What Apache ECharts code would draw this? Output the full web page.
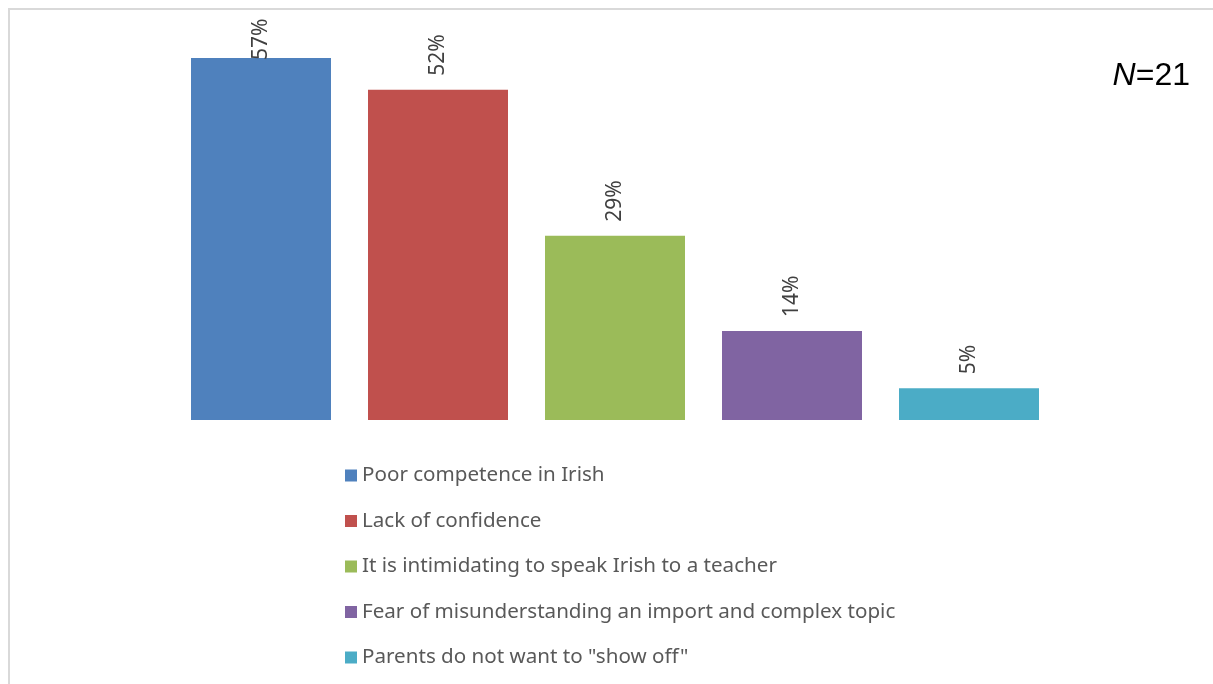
<!DOCTYPE html>
<html>
<head>
<meta charset="utf-8">
<script src="https://cdn.jsdelivr.net/npm/echarts@6/dist/echarts.min.js"></script>
<style>
  html, body { margin: 0; padding: 0; background: #fff; }
  #chart { width: 1213px; height: 684px; }
</style>
</head>
<body>
<div id="chart"></div>
<script>
// Reasons given by parents (N=21), share of respondents in percent
const reasons = [
  'Poor competence in Irish',
  'Lack of confidence',
  'It is intimidating to speak Irish to a teacher',
  'Fear of misunderstanding an import and complex topic',
  'Parents do not want to "show off"'
];
const percents = [57, 52, 29, 14, 5];
const colors = ['#4F81BD', '#C0504D', '#9BBB59', '#8064A2', '#4BACC6'];
const sampleSize = 21;

const FONT = '"Noto Sans", "Liberation Sans", Arial, sans-serif';
const FONT_N = '"Liberation Sans", Arial, sans-serif';

// One series per reason so each gets its own legend entry; stacking keeps each bar centred in its slot
const series = reasons.map((name, i) => ({
  name: name,
  type: 'bar',
  stack: 'all',
  barWidth: 140,
  itemStyle: { color: colors[i] },
  label: {
    show: true,
    position: 'top',
    rotate: 90,
    distance: i === 0 ? -2 : 14,
    align: 'left',
    verticalAlign: 'middle',
    formatter: '{c}%',
    color: '#404040',
    fontFamily: FONT,
    fontSize: 21
  },
  data: reasons.map((_, j) => (j === i ? percents[i] : null))
}));

const chart = echarts.init(document.getElementById('chart'));
chart.setOption({
  animation: false,
  backgroundColor: '#fff',
  grid: { left: 172.5, right: 155.5, top: 39, bottom: 264 },
  xAxis: {
    type: 'category',
    data: reasons,
    show: false
  },
  yAxis: {
    type: 'value',
    min: 0,
    max: 60,
    show: false
  },
  legend: {
    orient: 'vertical',
    left: 340,
    top: 460,
    itemWidth: 12,
    itemHeight: 12,
    itemGap: 24.5,
    icon: 'rect',
    textStyle: { color: '#595959', fontFamily: FONT, fontSize: 20.6, lineHeight: 20 },
    data: reasons
  },
  graphic: [
    { type: 'rect', shape: { x: 8, y: 8, width: 1213, height: 2 }, style: { fill: '#d9d9d9' }, silent: true },
    { type: 'rect', shape: { x: 8, y: 8, width: 2, height: 684 }, style: { fill: '#d9d9d9' }, silent: true },
    {
      type: 'text',
      x: 1190,
      y: 76,
      style: {
        text: '{n|N}=' + sampleSize,
        font: '32px ' + FONT_N,
        fill: '#000',
        align: 'right',
        verticalAlign: 'middle',
        rich: { n: { fontStyle: 'italic', fontSize: 32, fontFamily: FONT_N, fill: '#000' } }
      }
    }
  ],
  series: series
});
</script>
</body>
</html>
